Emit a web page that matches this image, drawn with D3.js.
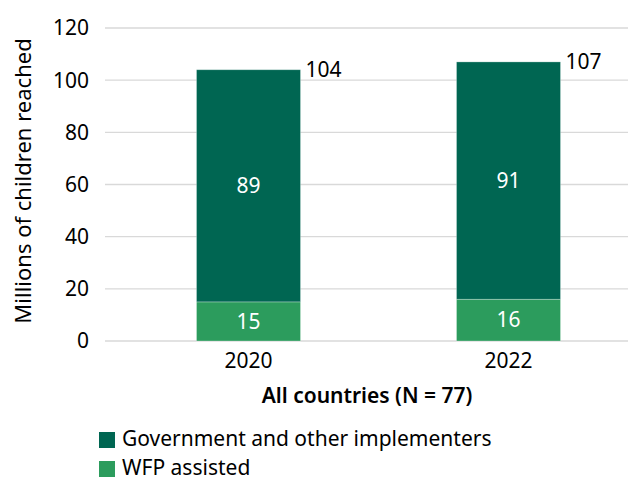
<!DOCTYPE html>
<html>
<head>
<meta charset="utf-8">
<script src="https://cdn.jsdelivr.net/npm/d3@7"></script>
<style>
  html, body { margin: 0; padding: 0; background: #fff; }
  svg { display: block; font-family: "Noto Sans", "Open Sans", sans-serif; }
</style>
</head>
<body>
<svg id="chart" width="628" height="479"></svg>
<script>
const categories = ["2020", "2022"];
const seriesNames = ["WFP assisted", "Government and other implementers"];
const wfpValues = [15, 16];
const govValues = [89, 91];
const totalValues = [104, 107];
const yTicks = [0, 20, 40, 60, 80, 100, 120];
const colors = { "WFP assisted": "#2c9c5d", "Government and other implementers": "#006652" };

const FS = 21;
const svg = d3.select("#chart");
const x = d3.scaleBand().domain(categories).range([118.5, 638.5]).paddingInner(0.6).paddingOuter(0.3);
const y = d3.scaleLinear().domain([0, 120]).range([341, 28]);

// gridlines
svg.append("g").selectAll("line").data(yTicks).join("line")
  .attr("x1", 105).attr("x2", 628)
  .attr("y1", d => y(d)).attr("y2", d => y(d))
  .attr("stroke", "#d9d9d9").attr("stroke-width", 1.3);

// y tick labels
svg.append("g").selectAll("text").data(yTicks).join("text")
  .attr("x", 89).attr("y", d => y(d)).attr("dy", "0.35em")
  .attr("text-anchor", "end").attr("font-size", FS).attr("fill", "#000")
  .text(d => d);

const data = categories.map((c, i) => ({ cat: c, "WFP assisted": wfpValues[i], "Government and other implementers": govValues[i], total: totalValues[i] }));
const stack = d3.stack().keys(seriesNames)(data);

const layers = svg.append("g").selectAll("g").data(stack).join("g").attr("fill", d => colors[d.key]);
layers.selectAll("rect").data(d => d).join("rect")
  .attr("x", d => x(d.data.cat))
  .attr("width", x.bandwidth())
  .attr("y", d => y(d[1]))
  .attr("height", d => y(d[0]) - y(d[1]))
  .attr("stroke", "rgba(255,255,255,0.35)").attr("stroke-width", 0.8);

// inside labels
layers.selectAll("text").data(d => d.map(v => ({ v, key: d.key }))).join("text")
  .attr("x", d => x(d.v.data.cat) + x.bandwidth() / 2)
  .attr("y", d => y((d.v[0] + d.v[1]) / 2)).attr("dy", "0.35em")
  .attr("text-anchor", "middle").attr("font-size", FS).attr("fill", "#fff")
  .text(d => d.v[1] - d.v[0]);

// totals
svg.append("g").selectAll("text").data(data).join("text")
  .attr("x", d => x(d.cat) + x.bandwidth() + 5)
  .attr("y", d => y(d.total) + 7)
  .attr("font-size", FS).attr("fill", "#000")
  .text(d => d.total);

// x tick labels
svg.append("g").selectAll("text").data(categories).join("text")
  .attr("x", d => x(d) + x.bandwidth() / 2).attr("y", 368)
  .attr("text-anchor", "middle").attr("font-size", FS).attr("fill", "#000")
  .text(d => d);

// x title
svg.append("text").attr("x", 367).attr("y", 403)
  .attr("text-anchor", "middle").attr("font-size", FS).attr("font-weight", 600).attr("fill", "#000")
  .text("All countries (N = 77)");

// y title
svg.append("text").attr("transform", "translate(31,181) rotate(-90)")
  .attr("text-anchor", "middle").attr("font-size", 22).attr("fill", "#000")
  .text("Millions of children reached");

// legend
const legendItems = ["Government and other implementers", "WFP assisted"];
const lg = svg.append("g").selectAll("g").data(legendItems).join("g")
  .attr("transform", (d, i) => `translate(99,${432 + i * 29})`);
lg.append("rect").attr("width", 16).attr("height", 16).attr("fill", d => colors[d]);
lg.append("text").attr("x", 23).attr("y", 14).attr("font-size", FS).attr("fill", "#000").text(d => d);
</script>
</body>
</html>
